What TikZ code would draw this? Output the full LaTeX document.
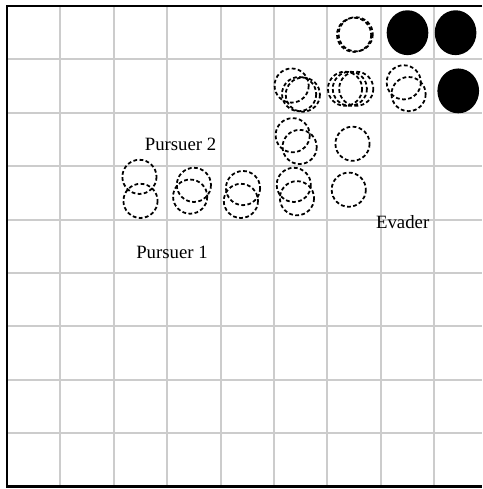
\documentclass[tikz,border=0pt]{standalone}
\usepackage{fontspec}
\setmainfont{Liberation Serif}
\usepackage{tikz}
\definecolor{gitterg}{HTML}{CCCCCC}
\tikzset{
  gitter/.style={gitterg,line width=1.1pt},
  rahmen/.style={black,line width=1.4pt},
  spur/.style={black,dashed,dash pattern=on 2pt off 1.3pt,line width=0.95pt},
  fest/.style={fill=black},
  marke/.style={font=\fontsize{10}{12}\selectfont,anchor=base,inner sep=0pt},
}

\begin{document}
\begin{tikzpicture}[x=1cm,y=-1cm]
  \useasboundingbox (-0.131,-0.112) rectangle (8.895,9.045);
  \fill[white] (-0.131,-0.112) rectangle (8.895,9.045);
  \draw[gitter] (0,0) grid (8.895,9);
  \draw[rahmen] (8.895,0)--(0,0)--(0,9)--(8.895,9);
  % Verfolger-Spuren
  \draw[spur] (6.50,0.54) circle (0.32);
  \draw[spur] (6.53,0.53) circle (0.32);
  \draw[spur] (5.33,1.49) circle (0.32);
  \draw[spur] (5.47,1.65) circle (0.32);
  \draw[spur] (5.54,1.66) circle (0.32);
  \draw[spur] (6.33,1.55) circle (0.32);
  \draw[spur] (6.42,1.55) circle (0.32);
  \draw[spur] (6.54,1.55) circle (0.32);
  \draw[spur] (7.43,1.43) circle (0.32);
  \draw[spur] (7.52,1.65) circle (0.32);
  \draw[spur] (5.35,2.42) circle (0.32);
  \draw[spur] (5.48,2.64) circle (0.32);
  \draw[spur] (6.47,2.58) circle (0.32);
  \draw[spur] (2.48,3.20) circle (0.32);
  \draw[spur] (2.50,3.65) circle (0.32);
  \draw[spur] (3.50,3.35) circle (0.32);
  \draw[spur] (3.43,3.57) circle (0.32);
  \draw[spur] (4.42,3.41) circle (0.32);
  \draw[spur] (4.38,3.65) circle (0.32);
  \draw[spur] (5.37,3.35) circle (0.32);
  \draw[spur] (5.43,3.60) circle (0.32);
  \draw[spur] (6.40,3.44) circle (0.32);
  % Hindernisse
  \fill[fest] (7.50,0.50) ellipse (0.39 and 0.42);
  \fill[fest] (8.40,0.50) ellipse (0.39 and 0.42);
  \fill[fest] (8.45,1.59) ellipse (0.39 and 0.42);
  \node[marke] (p2) at (3.25,2.70) {Pursuer 2};
  \node[marke] (p1) at (3.09,4.72) {Pursuer 1};
  \node[marke] (ev) at (7.41,4.16) {Evader};
\end{tikzpicture}
\end{document}
